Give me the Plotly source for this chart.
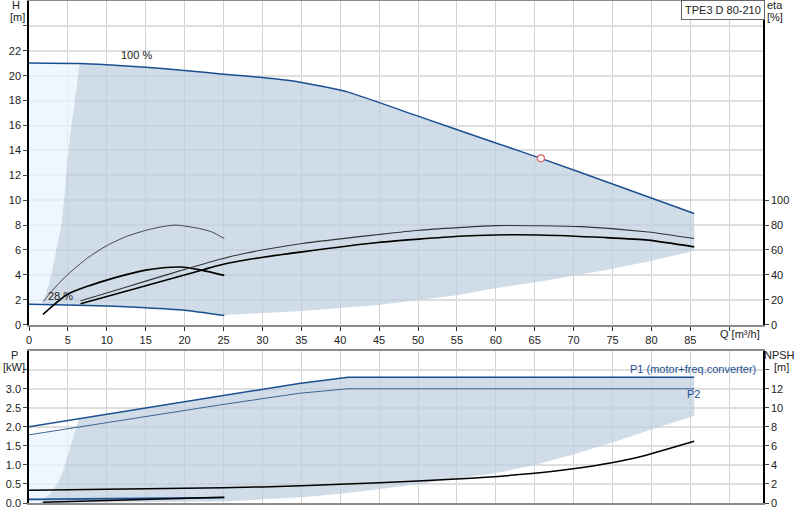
import numpy as np
import plotly.graph_objects as go

# ---------------- data ----------------
# 100 % speed QH curve
q_100 = [0, 6.5, 10, 15, 20, 25, 30, 34.7, 41, 50, 60, 65.8, 75, 85.5]
h_100 = [21.02, 20.98, 20.88, 20.68, 20.42, 20.12, 19.85, 19.5, 18.68, 16.75, 14.6, 13.36, 11.3, 8.93]
# 28 % speed QH curve
q_28 = [0, 5, 10, 15, 20, 25.1]
h_28 = [1.64, 1.58, 1.5, 1.36, 1.15, 0.73]
# min-flow boundary of operating area
q_minb = [1.8, 2.0, 2.87, 3.5, 4.15, 4.49, 5.2, 5.9, 6.5]
h_minb = [1.62, 2.1, 4.0, 6.0, 8.0, 10.0, 14.8, 18.0, 20.98]
# max-flow boundary of operating area
q_maxb = [25.1, 25.7, 35.1, 44.9, 50.1, 55.2, 59.9, 65.5, 74, 79.6, 85.5]
h_maxb = [0.73, 0.8, 1.1, 1.58, 1.98, 2.38, 2.92, 3.45, 4.38, 5.08, 5.93]
# duty point
q_duty = [65.8]
h_duty = [13.36]

# efficiency curves [%]
q_eta28_thin = [1.8, 3, 5, 7.5, 10, 12.5, 15, 17, 18.9, 21.7, 23.5, 25.1]
eta28_thin = [18.4, 27.5, 40.5, 53.5, 63.5, 70.8, 75.8, 78.6, 80, 77.5, 74.5, 69.2]
q_eta28_thick = [1.8, 3, 5, 7.5, 10, 12.5, 15, 17, 19.5, 22, 25.1]
eta28_thick = [8.3, 15, 24.6, 30.8, 35.8, 40.2, 43.8, 45.5, 46.3, 44.0, 39.6]
q_eta100_thin = [6.63, 10, 15, 20.6, 24.45, 27.65, 35.1, 44.9, 50.1, 55.2, 59.9, 65.5, 71, 79.6, 85.5]
eta100_thin = [19.2, 25.5, 35, 45.5, 52.4, 57.2, 65.2, 72.4, 75.9, 78, 79.6, 79.5, 78.8, 74.5, 69.2]
q_eta100_thick = [6.63, 10, 15, 22.3, 24.45, 27.65, 35.1, 44.9, 50.1, 55.2, 59.9, 65.5, 74, 79.6, 85.5]
eta100_thick = [16.8, 22.6, 31.3, 44, 47.8, 51.8, 58.5, 66, 68.7, 71, 72.1, 72.1, 70, 67.9, 62.5]

# power curves [kW]
q_p = [0, 25, 34.7, 41, 85.5]
p1 = [2.0, 2.83, 3.14, 3.3, 3.3]
p2 = [1.79, 2.59, 2.88, 3.0, 3.0]
q_p28 = [0, 25.1]
p1_28 = [0.10, 0.145]
p2_28 = [0.08, 0.125]
q_p28b = [1.8, 25.1]
p28_black = [0.02, 0.15]
# power area boundaries
q_pminb = [1.3, 2.5, 3.7, 4.56, 5.2, 5.8, 6.1, 6.4]
p_minb = [0.0, 0.2, 0.52, 0.95, 1.39, 1.82, 1.98, 2.21]
q_pmaxb = [1.3, 25.1, 35, 40, 45, 50.1, 59.9, 65, 69.7, 74.9, 79.8, 85.5]
p_maxb = [0.0, 0.04, 0.15, 0.24, 0.36, 0.5, 0.78, 1.0, 1.26, 1.58, 1.92, 2.29]
# NPSH [m]
q_npsh = [0, 10, 25, 35, 45, 54.9, 65, 69.7, 74.9, 78.3, 85.5]
npsh = [1.33, 1.45, 1.6, 1.8, 2.13, 2.52, 3.12, 3.57, 4.23, 4.8, 6.48]

x_ticks = list(range(0, 95, 5))
x_ticktext = [str(v) for v in range(0, 90, 5)] + [""]
h_ticks = list(range(0, 26, 2))
h_ticktext = [str(v) for v in range(0, 24, 2)] + [""]
eta_ticks = [0, 20, 40, 60, 80, 100]
p_ticks = [0, 0.5, 1.0, 1.5, 2.0, 2.5, 3.0, 3.5]
p_ticktext = ["0.0", "0.5", "1.0", "1.5", "2.0", "2.5", "3.0", ""]
npsh_ticks = [0, 2, 4, 6, 8, 10, 12, 14]
npsh_ticktext = ["0", "2", "4", "6", "8", "10", "12", ""]

# ---------------- styles ----------------
BLUE = "#1B4F91"
GRAYFILL = "rgba(190,207,222,0.72)"
LIGHTFILL = "rgba(232,243,253,0.75)"
FONT = "Liberation Sans, Arial, sans-serif"

fig = go.Figure()

# ---- top panel areas ----
lx = [0] + q_100[:2] + q_minb[::-1] + [0]
ly = [h_28[0]] + h_100[:2] + h_minb[::-1] + [h_28[0]]
fig.add_trace(go.Scatter(x=lx, y=ly, fill="toself", fillcolor=LIGHTFILL, mode="none",
                         hoverinfo="skip", xaxis="x", yaxis="y"))
top_q = [q for q in q_100 if q >= 6.5]
top_h = [h for q, h in zip(q_100, h_100) if q >= 6.5]
bot28_q = [q for q in q_28 if q > 1.8][::-1]
bot28_h = [h for q, h in zip(q_28, h_28) if q > 1.8][::-1]
gx = q_minb + top_q[1:] + q_maxb[::-1] + bot28_q[1:] + [1.8]
gy = h_minb + top_h[1:] + h_maxb[::-1] + bot28_h[1:] + [1.62]
fig.add_trace(go.Scatter(x=gx, y=gy, fill="toself", fillcolor=GRAYFILL, mode="none",
                         hoverinfo="skip", xaxis="x", yaxis="y"))

# ---- top panel curves ----
fig.add_trace(go.Scatter(x=q_100, y=h_100, mode="lines", line=dict(color=BLUE, width=1.5, shape="spline", smoothing=0.5),
                         xaxis="x", yaxis="y"))
fig.add_trace(go.Scatter(x=q_28, y=h_28, mode="lines", line=dict(color=BLUE, width=1.5, shape="spline", smoothing=0.5),
                         xaxis="x", yaxis="y"))
fig.add_trace(go.Scatter(x=q_eta28_thin, y=eta28_thin, mode="lines",
                         line=dict(color="#444444", width=1, shape="spline", smoothing=0.6), xaxis="x", yaxis="y2"))
fig.add_trace(go.Scatter(x=q_eta28_thick, y=eta28_thick, mode="lines",
                         line=dict(color="#000000", width=1.6, shape="spline", smoothing=0.6), xaxis="x", yaxis="y2"))
fig.add_trace(go.Scatter(x=q_eta100_thin, y=eta100_thin, mode="lines",
                         line=dict(color="#333333", width=1.1, shape="spline", smoothing=0.6), xaxis="x", yaxis="y2"))
fig.add_trace(go.Scatter(x=q_eta100_thick, y=eta100_thick, mode="lines",
                         line=dict(color="#000000", width=1.6, shape="spline", smoothing=0.6), xaxis="x", yaxis="y2"))
fig.add_trace(go.Scatter(x=q_duty, y=h_duty, mode="markers",
                         marker=dict(size=7, color="white", line=dict(color="#E06060", width=1.2)),
                         xaxis="x", yaxis="y"))

# ---- bottom panel areas ----
p2_at = float(np.interp(q_pminb[-2], q_p, p2))
blx = [0] + q_pminb[:-1] + [q_pminb[-2], 0]
bly = [0] + p_minb[:-1] + [p2_at, p2[0]]
fig.add_trace(go.Scatter(x=blx, y=bly, fill="toself", fillcolor=LIGHTFILL, mode="none",
                         hoverinfo="skip", xaxis="x2", yaxis="y3"))
ptop_q = [q_pminb[-1]] + [q for q in q_p if q > q_pminb[-1]]
ptop_p = [float(np.interp(q, q_p, p1)) for q in ptop_q]
bgx = q_pminb + ptop_q[1:] + q_pmaxb[::-1]
bgy = p_minb + ptop_p[1:] + p_maxb[::-1]
fig.add_trace(go.Scatter(x=bgx, y=bgy, fill="toself", fillcolor=GRAYFILL, mode="none",
                         hoverinfo="skip", xaxis="x2", yaxis="y3"))

# ---- bottom panel curves ----
fig.add_trace(go.Scatter(x=q_p, y=p1, mode="lines", line=dict(color=BLUE, width=1.5), xaxis="x2", yaxis="y3"))
fig.add_trace(go.Scatter(x=q_p, y=p2, mode="lines", line=dict(color="#3D6496", width=1), xaxis="x2", yaxis="y3"))
fig.add_trace(go.Scatter(x=q_p28, y=p2_28, mode="lines", line=dict(color="#7F93AC", width=1.2), xaxis="x2", yaxis="y3"))
fig.add_trace(go.Scatter(x=q_p28, y=p1_28, mode="lines", line=dict(color=BLUE, width=1.5), xaxis="x2", yaxis="y3"))
fig.add_trace(go.Scatter(x=q_p28b, y=p28_black, mode="lines", line=dict(color="#000000", width=1.5), xaxis="x2", yaxis="y3"))
fig.add_trace(go.Scatter(x=q_npsh, y=npsh, mode="lines", line=dict(color="#000000", width=1.5, shape="spline", smoothing=0.6),
                         xaxis="x2", yaxis="y4"))

# ---------------- layout ----------------
XMAX = 734 / 7.78
tickfont = dict(family=FONT, size=11, color="#222222")
xcommon = dict(range=[0, XMAX], tickvals=x_ticks, showgrid=True, gridcolor="#D2D2D2", gridwidth=1,
               showline=True, linecolor="#8C8C8C", linewidth=2, mirror=True,
               ticklen=4, tickcolor="#333333", zeroline=False, tickfont=tickfont, automargin=False)
ycommon = dict(showline=True, linecolor="#000000", linewidth=1.5, ticks="outside", ticklen=4,
               zeroline=False, tickfont=tickfont, automargin=False)
fig.update_layout(
    width=800, height=520,
    margin=dict(l=29, r=37, t=1, b=17),
    paper_bgcolor="white", plot_bgcolor="white",
    showlegend=False,
    font=dict(family=FONT, size=11, color="#222222"),
    xaxis=dict(domain=[0, 1], anchor="y", ticktext=x_ticktext, ticks="outside", **xcommon),
    xaxis2=dict(domain=[0, 1], anchor="y3", showticklabels=False, ticks="", **xcommon),
    yaxis=dict(domain=[0.3552, 1], range=[0, 26], tickvals=h_ticks, ticktext=h_ticktext,
               showgrid=True, gridcolor="#DEDEDE", gridwidth=2, **ycommon),
    yaxis2=dict(overlaying="y", side="right", anchor="x", range=[0, 260], tickvals=eta_ticks,
                showgrid=False, **ycommon),
    yaxis3=dict(domain=[0, 0.3034], anchor="x2", range=[0, 4], tickvals=p_ticks, ticktext=p_ticktext,
                showgrid=True, gridcolor="#DEDEDE", gridwidth=2, **ycommon),
    yaxis4=dict(overlaying="y3", side="right", anchor="x2", range=[0, 16], tickvals=npsh_ticks,
                ticktext=npsh_ticktext, showgrid=False, **ycommon),
)

def ann(text, x, y, xref="paper", yref="paper", color="#222222", size=11, xanchor="center", **kw):
    fig.add_annotation(text=text, x=x, y=y, xref=xref, yref=yref, showarrow=False,
                       font=dict(family=FONT, size=size, color=color), xanchor=xanchor,
                       yanchor="middle", **kw)

def px_x(px):
    return (px - 29) / 734

def px_y(py):
    return (503 - py) / 502

ann("H", px_x(16), px_y(5))
ann("[m]", px_x(17), px_y(17))
ann("eta", px_x(775), px_y(5))
ann("[%]", px_x(775), px_y(17))
ann("P", px_x(14), px_y(355))
ann("[kW]", px_x(14), px_y(367))
ann("NPSH", px_x(779), px_y(355))
ann("[m]", px_x(781), px_y(367))
ann("Q [m³/h]", px_x(740), px_y(334))
ann("100 %", 13.8, 21.7, xref="x", yref="y")
ann("28 %", 4.1, 2.3, xref="x", yref="y")
ann("P1 (motor+freq.converter)", 85.4, 3.52, xref="x2", yref="y3", color=BLUE)
ann("P2", 85.4, 2.86, xref="x2", yref="y3", color=BLUE)
fig.add_annotation(text="TPE3 D 80-210", x=px_x(722.5), y=px_y(0), xref="paper", yref="paper",
                   xanchor="center", yanchor="top",
                   showarrow=False, font=dict(family=FONT, size=11, color="#222222"),
                   bgcolor="white", bordercolor="#666666", borderwidth=1, borderpad=3)

fig.write_html("out.html", config={"displayModeBar": False},
               post_script="document.body.style.margin='0';document.body.style.overflow='hidden';")
